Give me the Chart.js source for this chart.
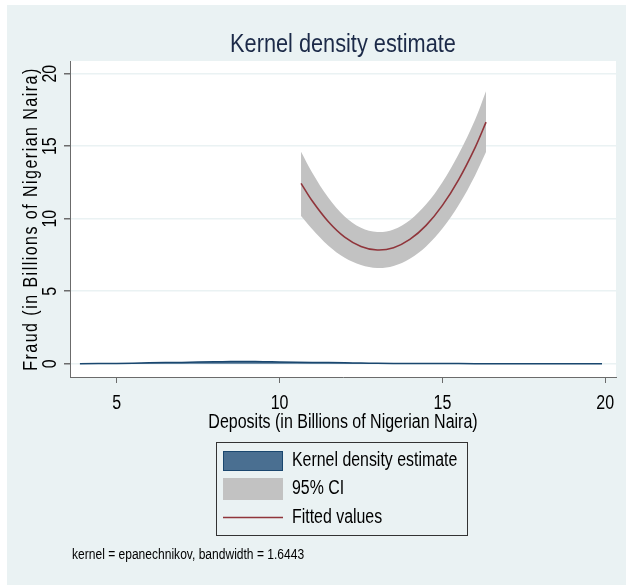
<!DOCTYPE html>
<html>
<head>
<meta charset="utf-8">
<script src="https://cdn.jsdelivr.net/npm/chart.js@4.4.1/dist/chart.umd.min.js"></script>
<style>
  html, body { margin: 0; padding: 0; background: #fff; }
  #wrap { position: absolute; left: 0; top: 0; width: 626px; height: 585px; }
</style>
</head>
<body>
<div id="wrap"><canvas id="kdChart" width="626" height="585"></canvas></div>
<script>
// ===== Data =====
const xTicks = [5, 10, 15, 20];
const yTicks = [0, 5, 10, 15, 20];

// kernel density (tiny values, hugging zero)
const kdeX = [3.87, 5, 6, 7, 8, 8.5, 9, 9.5, 10, 11, 12, 12.5, 13, 14, 15, 16, 17, 18, 19, 19.9];
const kdeY = [0.005, 0.02, 0.06, 0.09, 0.13, 0.15, 0.15, 0.14, 0.12, 0.09, 0.06, 0.04, 0.03, 0.015, 0.008, 0.004, 0.002, 0.001, 0.0005, 0];

// fitted values and 95% CI band
const fitX    = [10.66, 11, 11.5, 12, 12.5, 13, 13.5, 14, 14.5, 15, 15.5, 16, 16.34];
const fitY    = [12.44, 11.24, 9.79, 8.73, 8.09, 7.84, 8.00, 8.57, 9.54, 10.92, 12.70, 14.89, 16.66];
const ciUpper = [14.62, 13.19, 11.44, 10.15, 9.37, 9.08, 9.26, 9.90, 10.99, 12.52, 14.46, 16.81, 18.80];
const ciLower = [10.19, 9.29, 8.14, 7.31, 6.81, 6.60, 6.74, 7.24, 8.09, 9.32, 10.94, 12.97, 14.60];

const FONT = '"Liberation Sans", Arial, sans-serif';
const NARROW = 0.82;   // squeeze Liberation Sans to look like Arial Narrow
const BG = '#eaf2f3';
const AXIS = '#6b6b6b';

function pts(xs, ys) {
    return xs.map((x, i) => ({ x: x, y: ys[i] }));
}

// narrow text helper
function nText(ctx, str, x, y, size, align, baseline, rot, spacing) {
    ctx.save();
    ctx.translate(x, y);
    if (rot) ctx.rotate(rot);
    ctx.scale(NARROW, 1);
    ctx.font = size + 'px ' + FONT;
    ctx.textAlign = align || 'left';
    ctx.textBaseline = baseline || 'alphabetic';
    if (spacing) ctx.letterSpacing = spacing;
    ctx.fillText(str, 0, 0);
    ctx.restore();
}

// ===== Background, titles, legend, notes =====
const framePlugin = {
    id: 'frame',
    beforeDraw(chart) {
        const ctx = chart.ctx;
        const a = chart.chartArea;
        ctx.save();
        ctx.fillStyle = '#fff';
        ctx.fillRect(0, 0, chart.width, chart.height);
        ctx.fillStyle = BG;
        ctx.fillRect(7, 5, chart.width - 7, chart.height - 5);
        ctx.fillStyle = '#fff';
        ctx.fillRect(a.left, a.top, a.right - a.left, a.bottom - a.top);
        ctx.restore();
    },
    afterDraw(chart) {
        const ctx = chart.ctx;
        const a = chart.chartArea;
        const xs = chart.scales.x;
        const ys = chart.scales.y;
        ctx.save();

        // title
        ctx.fillStyle = '#1c2a48';
        nText(ctx, 'Kernel density estimate', 343, 52, 26.5, 'center');

        ctx.fillStyle = '#000';
        // x tick labels
        xTicks.forEach(v => {
            nText(ctx, String(v), xs.getPixelForValue(v), 408.5, 19.5, 'center');
        });
        // x axis title
        nText(ctx, 'Deposits (in Billions of Nigerian Naira)', 343, 428, 19.5, 'center');

        // y tick labels, rotated
        yTicks.forEach(v => {
            nText(ctx, String(v), 55.5, ys.getPixelForValue(v), 19.5, 'center', 'alphabetic', -Math.PI / 2);
        });

        // y axis title
        nText(ctx, 'Fraud (in Billions of Nigerian Naira)', 37, (a.top + a.bottom) / 2, 19.5,
              'center', 'alphabetic', -Math.PI / 2, '1.8px');

        // legend
        const ds = chart.data.datasets;
        const kde = ds[3], ci = ds[1], fit = ds[0];
        ctx.strokeStyle = '#333';
        ctx.lineWidth = 1;
        ctx.strokeRect(216.5, 442.5, 251, 93);

        ctx.fillStyle = kde.backgroundColor;
        ctx.fillRect(223, 451, 60, 20);
        ctx.strokeStyle = kde.borderColor;
        ctx.strokeRect(223.5, 451.5, 59, 19);

        ctx.fillStyle = ci.backgroundColor;
        ctx.fillRect(223, 478, 60, 22);

        ctx.strokeStyle = fit.borderColor;
        ctx.lineWidth = fit.borderWidth;
        ctx.beginPath();
        ctx.moveTo(223, 517.5);
        ctx.lineTo(283, 517.5);
        ctx.stroke();

        ctx.fillStyle = '#000';
        nText(ctx, kde.label, 292, 461, 19.4, 'left', 'middle');
        nText(ctx, ci.label, 292, 489, 19.4, 'left', 'middle');
        nText(ctx, fit.label, 292, 518, 19.4, 'left', 'middle');

        // note
        nText(ctx, 'kernel = epanechnikov, bandwidth = 1.6443', 72, 555, 14.7, 'left', 'middle');

        ctx.restore();
    }
};

const ctx = document.getElementById('kdChart').getContext('2d');
const kdChart = new Chart(ctx, {
    type: 'line',
    data: {
        datasets: [
            {
                label: 'Fitted values',
                data: pts(fitX, fitY),
                borderColor: '#90353b',
                borderWidth: 1.6,
                pointRadius: 0,
                fill: false,
                tension: 0.35
            },
            {
                label: '95% CI',
                data: pts(fitX, ciUpper),
                borderColor: 'rgba(0,0,0,0)',
                borderWidth: 0,
                backgroundColor: '#c2c2c2',
                pointRadius: 0,
                fill: '+1',
                tension: 0.35
            },
            {
                label: '95% CI lower',
                data: pts(fitX, ciLower),
                borderColor: 'rgba(0,0,0,0)',
                borderWidth: 0,
                backgroundColor: '#c2c2c2',
                pointRadius: 0,
                fill: false,
                tension: 0.35
            },
            {
                label: 'Kernel density estimate',
                data: pts(kdeX, kdeY),
                borderColor: '#1a476f',
                backgroundColor: '#4a6f91',
                borderWidth: 1.5,
                pointRadius: 0,
                fill: 'origin',
                tension: 0.3
            }
        ]
    },
    options: {
        responsive: false,
        animation: false,
        layout: { padding: { top: 61, left: 0, right: 10, bottom: 168 } },
        plugins: {
            legend: { display: false },
            title: { display: false },
            tooltip: { enabled: false }
        },
        scales: {
            x: {
                type: 'linear',
                min: 3.566,
                max: 20.33,
                afterBuildTicks: s => { s.ticks = xTicks.map(v => ({ value: v })); },
                afterFit: s => { s.height = 40; },
                ticks: { display: false },
                grid: { drawOnChartArea: false, drawTicks: true, tickLength: 6, tickColor: AXIS },
                border: { display: true, color: AXIS, width: 1 }
            },
            y: {
                type: 'linear',
                min: -0.917,
                max: 20.876,
                afterBuildTicks: s => { s.ticks = yTicks.map(v => ({ value: v })); },
                afterFit: s => { s.width = 70; },
                ticks: { display: false },
                grid: { color: BG, lineWidth: 1.5, drawTicks: true, tickLength: 6, tickColor: AXIS },
                border: { display: true, color: AXIS, width: 1 }
            }
        }
    },
    plugins: [framePlugin]
});
</script>
</body>
</html>
